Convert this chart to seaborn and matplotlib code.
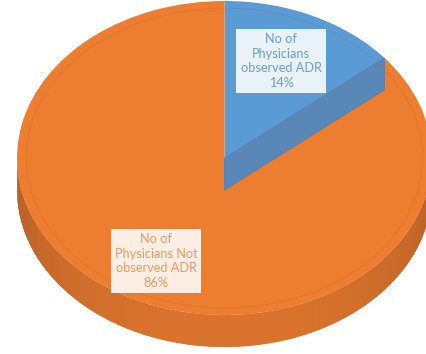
import numpy as np
import matplotlib
matplotlib.use("Agg")
import matplotlib.pyplot as plt
from matplotlib.transforms import Affine2D
from matplotlib.patches import Polygon, Ellipse
import seaborn as sns

# ---- data ----
categories = ["No of\nPhysicians\nobserved ADR", "No of\nPhysicians Not\nobserved ADR"]
values = [14, 86]
colors = ["#5B9BD5", "#ED7D31"]
text_colors = ["#6A9ED3", "#EE9A62"]

sns.set_theme(style="white")
plt.rcParams["font.family"] = ["Lato", "DejaVu Sans"]

W, H = 427, 354
fig = plt.figure(figsize=(W / 100, H / 100), dpi=100)
ax = fig.add_axes([0, 0, 1, 1])

# ellipse geometry in pixel space
cx, cy, rx, ry = 224.5, 158.0, 207.5, 157.0
thick = 32.0 / ry  # side thickness in unit coords
trans = Affine2D().scale(rx, -ry).translate(cx, cy) + ax.transData

total = float(sum(values))
start = 90.0
bounds = []
a = start
for v in values:
    a2 = a - 360.0 * v / total
    bounds.append((a2, a))
    a = a2

def slice_at(deg):
    d = deg % 360
    for i, (lo, hi) in enumerate(bounds):
        lo_m, hi_m = lo % 360, hi % 360
        if lo_m < hi_m:
            if lo_m <= d < hi_m:
                return i
        else:
            if d >= lo_m or d < hi_m:
                return i
    return len(values) - 1

def shade(c, f):
    r, g, b = matplotlib.colors.to_rgb(c)
    return (min(r * f, 1), min(g * f, 1), min(b * f, 1))

# side band (front half), drawn as overlapping strips to avoid seams
n = 120
th = np.linspace(180, 360, n + 1)
step = th[1] - th[0]
for i in range(n):
    t0 = np.radians(th[i])
    t1 = np.radians(min(th[i + 1] + step * 0.8, 360))
    tm = (th[i] + th[i + 1]) / 2
    k = slice_at(tm)
    s = -np.sin(np.radians(tm))
    f = 0.76 + 0.16 * s
    tt = np.linspace(t0, t1, 4)
    top = [(np.cos(t), np.sin(t)) for t in tt]
    bot = [(np.cos(t), np.sin(t) - thick) for t in tt[::-1]]
    ax.add_patch(Polygon(top + bot, closed=True, facecolor=shade(colors[k], f),
                         edgecolor="none", lw=0, transform=trans))

# top face via pie
wedges, _ = ax.pie(values, colors=colors, startangle=start, counterclock=False,
                   radius=1.0, center=(0, 0),
                   wedgeprops=dict(linewidth=0))
for w in wedges:
    w.set_transform(trans)

# radial face of the small slice
end = np.radians(bounds[0][0])
ex, ey = np.cos(end), np.sin(end)
face = [(0, 0), (ex, ey), (ex, ey - thick), (0, -thick)]
ax.add_patch(Polygon(face, closed=True, facecolor="#5088C0", edgecolor="#4A7DB2",
                     lw=0.5, alpha=0.95, transform=trans, zorder=3))

# bevel line on top face
ax.add_patch(Ellipse((0, 0), 2 * 0.955, 2 * 0.955, fill=False,
                     edgecolor="#A8551F", lw=0.5, alpha=0.22, transform=trans, zorder=3))

# labels
label_pos = [(281, 61), (156, 261)]
for i, (lab, v) in enumerate(zip(categories, values)):
    x, y = label_pos[i]
    ax.text(x, y, f"{lab}\n{v}%", ha="center", va="center", fontsize=9.2,
            color=text_colors[i], linespacing=1.25, zorder=5,
            bbox=dict(boxstyle="square,pad=0.32", facecolor="white",
                      edgecolor="none", alpha=0.88))

ax.set_aspect("auto")
ax.set_xlim(0, W)
ax.set_ylim(H, 0)
ax.axis("off")
fig.savefig("out.png", dpi=100)
